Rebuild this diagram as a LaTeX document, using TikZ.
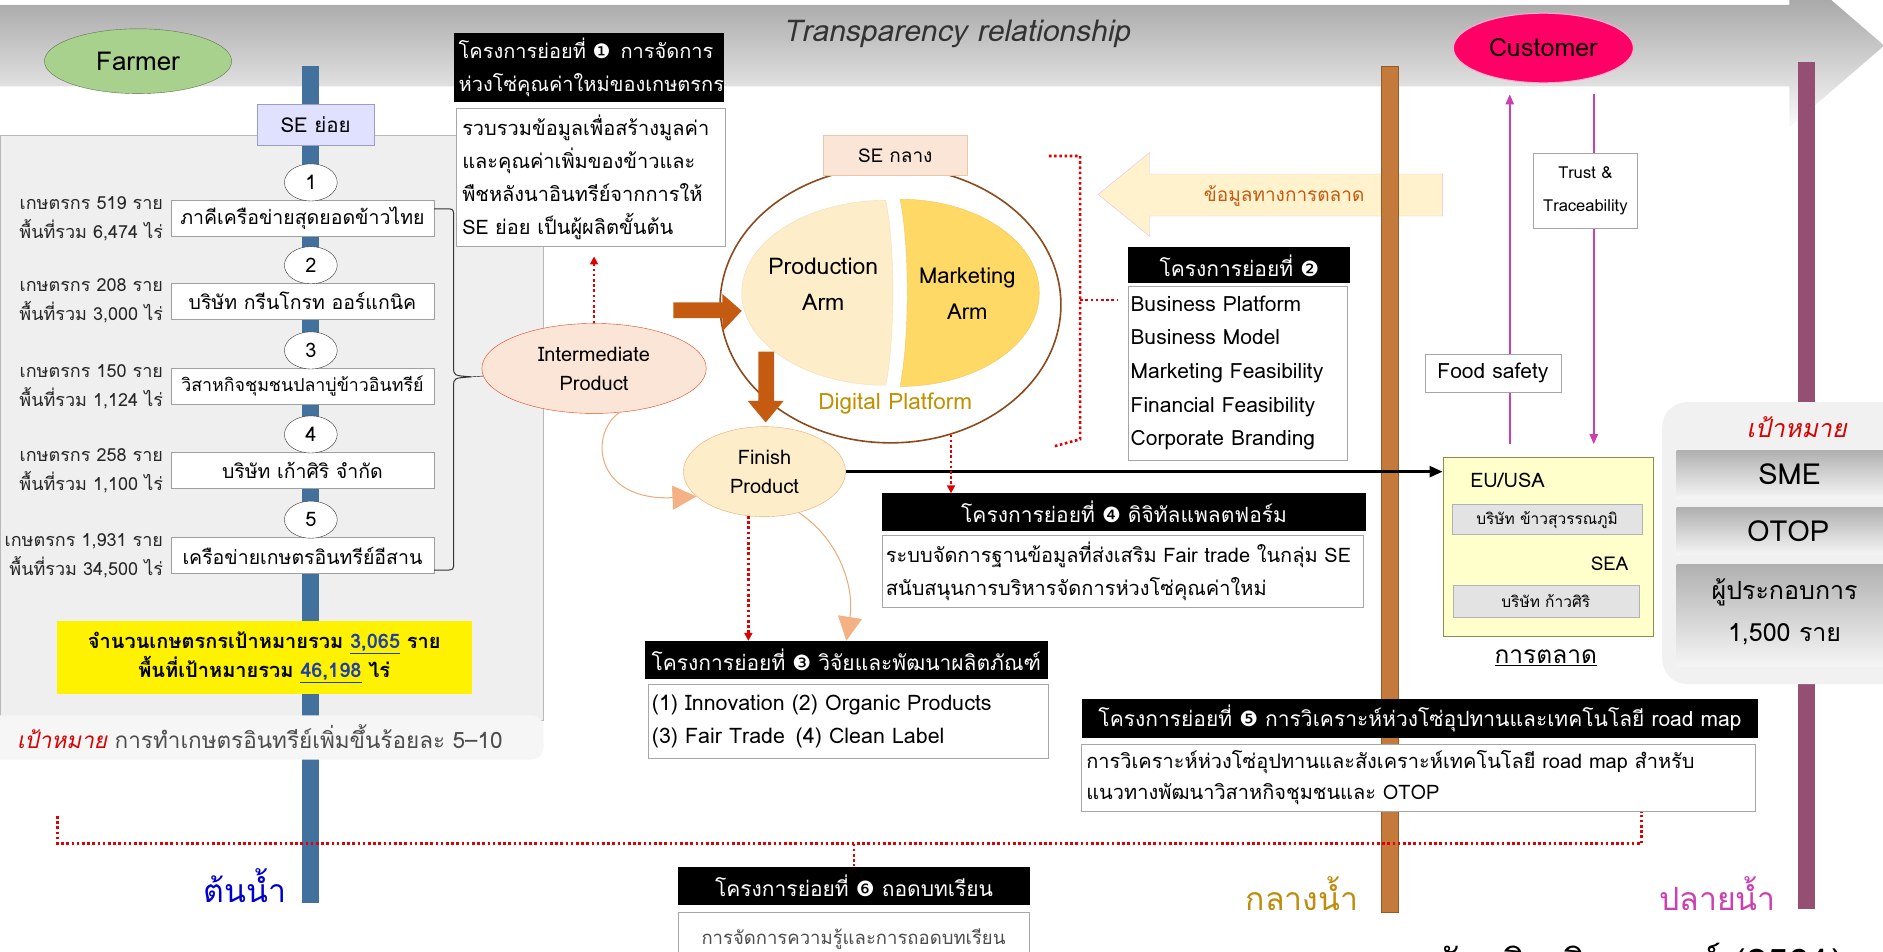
\documentclass[tikz,border=0pt]{standalone}
\usepackage{fontspec}
\setmainfont{Loma}[Script=Thai]
\newfontfamily\dingfont{DejaVu Sans}
\usetikzlibrary{positioning,shapes.geometric,arrows.meta}

\newdimen\pu \pu=1.2pt
\definecolor{panelgray}{HTML}{EFEFEF}
\definecolor{farmergreen}{HTML}{A9D18E}
\definecolor{custpink}{HTML}{FF0066}
\definecolor{riverblue}{HTML}{41719C}
\definecolor{riverbrown}{HTML}{C47A3A}
\definecolor{riverplum}{HTML}{954F72}
\definecolor{armlight}{HTML}{FDEDC8}
\definecolor{armgold}{HTML}{FFD966}
\definecolor{arrowbrown}{HTML}{C55A11}
\definecolor{salmon}{HTML}{F4B183}
\definecolor{peach}{HTML}{FBE5D6}
\definecolor{lightcream}{HTML}{FFF2CC}
\definecolor{magentaline}{HTML}{CC3FB0}
\definecolor{paleyellow}{HTML}{FFFFCC}
\definecolor{dotred}{HTML}{E00000}
\definecolor{platgold}{HTML}{BF9000}
\definecolor{circbrown}{HTML}{8B4A1C}
\definecolor{linkblue}{HTML}{1F3FA8}

\newcommand{\tsize}[2]{\fontsize{#1}{#2}\selectfont}
\newcommand{\dg}[1]{{\dingfont #1}}
\newcommand{\target}[1]{\textcolor{linkblue}{\underline{#1}}}

\tikzset{
  every node/.style={inner sep=0pt},
  wh/.style 2 args={minimum width=#1\pu, minimum height=#2\pu},
  headbox/.style={fill=black, text=white, anchor=north west, font=\tsize{21}{33.6}},
  notebox/.style={draw=gray!70, fill=white, anchor=north west, align=left, font=\tsize{20}{33}},
  firmbox/.style={draw=gray!75, fill=white, wh={219}{30}, font=\tsize{19.5}{22}},
  numcircle/.style={ellipse, draw=black!80, fill=white, wh={44}{31}, font=\tsize{20}{22}},
  farmlabel/.style={anchor=east, align=right, font=\tsize{18}{29}, text=black!85},
  reddot/.style={draw=dotred, line width=2.6pt, dash pattern=on 2.6pt off 2.6pt},
  redtip/.style={-{Triangle[length=8pt,width=8pt,color=dotred]}},
  tagbox/.style={draw=gray!70, fill=white, align=center},
  goalbar/.style={top color=gray!62, bottom color=gray!8},
  custarrow/.style={draw=magentaline, line width=2pt, -{Triangle[length=10pt,width=8pt]}},
  softarrow/.style={draw=salmon!85!brown, line width=1pt, -{Triangle[length=24pt,width=24pt,color=salmon]}}
}

\begin{document}
\begin{tikzpicture}[x=1.2pt,y=-1.2pt]
\clip (0,0) rectangle (1569,792.5);

% transparency band
\shade[top color=gray!85, bottom color=gray!4] (0,4) -- (1491,4) -- (1491,-30) -- (1570,38) -- (1491,106) -- (1491,72) -- (0,72) -- cycle;
\node[font=\itshape\tsize{30}{34}, text=black!80] (transp) at (797,28) {Transparency relationship};

% left panel
\filldraw[fill=panelgray, draw=gray!55] (0,113) rectangle (453,600);

% market information arrow
\filldraw[fill=lightcream, draw=magentaline!35] (915,162) -- (958,127) -- (958,145) -- (1202,145) -- (1202,180) -- (958,180) -- (958,197) -- cycle;
\node[font=\tsize{19}{22}, text=arrowbrown] (mktinfo) at (1070,163) {ข้อมูลทางการตลาด};

% rivers
\fill[riverblue] (252,55) rectangle (266,752);
\filldraw[fill=riverbrown, draw=riverbrown!75!black] (1151,55) rectangle (1165,760);
\fill[riverplum] (1498,52) rectangle (1512,757);

\fill[gray!7, rounded corners=12pt] (-20,596) rectangle (453,633);
\node[anchor=west, font=\tsize{22.5}{26}, text=black!70] (goalleft) at (14,614) {\textcolor{red!85!black}{\itshape เป้าหมาย} การทำเกษตรอินทรีย์เพิ่มขึ้นร้อยละ 5--10};

\node[ellipse, draw=farmergreen!55!black, fill=farmergreen, wh={156}{54}, font=\tsize{26}{28}] (farmer) at (115,51) {Farmer};
\node[ellipse, draw=custpink!30, line width=1pt, fill=custpink, wh={150}{58}, font=\tsize{25}{28}] (customer) at (1286,40) {Customer};

\node[draw=blue!30!gray!60, fill=blue!12, wh={98}{34}, font=\tsize{20.5}{22}] (sesmall) at (263,104) {SE ย่อย};

% member SE
\foreach \k/\ytop/\firm/\farmers/\area in {
  1/167/{ภาคีเครือข่ายสุดยอดข้าวไทย}/519/{6,474},
  2/236/{บริษัท กรีนโกรท ออร์แกนิค}/208/{3,000},
  3/307/{\tsize{17.8}{22}วิสาหกิจชุมชนปลาบู่ข้าวอินทรีย์}/150/{1,124},
  4/377/{บริษัท เก้าศิริ จำกัด}/258/{1,100},
  5/448/{เครือข่ายเกษตรอินทรีย์อีสาน}/{1,931}/{34,500}}
{
  \node[firmbox] (firm\k) at (252,\ytop+15) {\firm};
  \node[numcircle] (num\k) at (259,\ytop-15) {\k};
  \node[farmlabel] (farm\k) at (136,\ytop+15) {เกษตรกร \farmers\ ราย\\พื้นที่รวม \area\ ไร่};
}

% brace to intermediate product
\coordinate (bracetip) at (393,314);
\draw[black!80, line width=1pt] (firm1.east |- 0,174) -- (371,174) .. controls (378,174) .. (378,181) -- (378,306)
  .. controls (378,313) .. (bracetip) .. controls (378,315) .. (378,322) -- (378,468)
  .. controls (378,475) .. (371,475) -- (firm5.east |- 0,475);

\node[fill=yellow, anchor=north west, wh={346}{61}, align=center, font=\bfseries\tsize{20}{29}] (targetbox) at (47,517)
  {จำนวนเกษตรกรเป้าหมายรวม \target{3,065} ราย\\พื้นที่เป้าหมายรวม \target{46,198} ไร่};

% sub-project 1
\node[headbox, wh={225}{58}, text width=217\pu, inner xsep=4\pu, align=left, font=\tsize{20}{33.6}] (head1) at (378,27)
  {\mbox{โครงการย่อยที่ \dg{❶}\enspace การจัดการ}\\\mbox{ห่วงโซ่คุณค่าใหม่ของเกษตรกร}};
\node[notebox, wh={222}{115}, text width=214\pu, inner xsep=5\pu] (note1) at (380,90)
  {รวบรวมข้อมูลเพื่อสร้างมูลค่า\\และคุณค่าเพิ่มของข้าวและ\\พืชหลังนาอินทรีย์จากการให้\\\mbox{SE ย่อย เป็นผู้ผลิตขั้นต้น}};

\node[ellipse, draw=red!45!brown, fill=peach, wh={187}{75}, align=center, font=\tsize{20}{29}] (inter) at (495,307) {Intermediate\\Product};
\draw (bracetip) -- (inter);
\draw[reddot, redtip, shorten >=10pt] (inter.north) -- (inter.north |- note1.south);

% central SE
\node[ellipse, draw=circbrown, line width=1.6pt, fill=white, wh={284}{230}] (secircle) at (742,254) {};
\filldraw[fill=armlight, draw=armlight!85!brown] (738,167) arc[start angle=270, end angle=90, x radius=120, y radius=77]
  .. controls (746,280) and (746,206) .. (738,167);
\filldraw[fill=armgold, draw=armgold!80!brown] (750,166) arc[start angle=-90, end angle=90, x radius=116, y radius=78]
  .. controls (758,280) and (758,206) .. (750,166);
\node[align=center, font=\tsize{23}{36}] (prodarm) at (686,237) {Production\\Arm};
\node[align=center, font=\tsize{22}{36}] (markarm) at (806,245) {Marketing\\Arm};
\node[font=\tsize{22.5}{24}, text=platgold] (digplat) at (746,336) {Digital Platform};
\node[draw=peach!70!brown, fill=peach, wh={120}{33}, font=\tsize{19}{22}] (secentral) at (746,129.5) {SE กลาง};

% block arrows into / out of SE กลาง
\fill[arrowbrown] (561,252) -- (602,252) -- (602,245) -- (618,259) -- (602,276) -- (602,265) -- (561,265) -- cycle;
\fill[arrowbrown] (632,293) -- (645,293) -- (645,334) -- (653,334) -- (638,352) -- (623,334) -- (632,334) -- cycle;

\node[ellipse, draw=salmon!80!brown, fill=armlight, wh={135}{75}, align=center, font=\tsize{20}{29}] (finish) at (637,393) {Finish\\Product};
\draw[softarrow] (inter.-60) .. controls (490,362) and (496,418) .. (finish.200);

% sub-project 2
\node[headbox, wh={185}{30}] (head2) at (940,206) {โครงการย่อยที่ \dg{❷}};
\node[notebox, wh={182}{145}, text width=178\pu, inner xsep=2\pu, font=\tsize{21}{33.6}] (note2) at (940,238)
  {Business Platform\\Business Model\\Marketing Feasibility\\Financial Feasibility\\Corporate Branding};
\coordinate (dotbranch) at (900,250);
\draw[reddot] (874,130) -- (900,130) -- (900,366) -- (878,372);
\draw[reddot, shorten >=10pt] (dotbranch) -- (dotbranch -| note2.west);

% market
\node[draw=gray!55!olive, fill=paleyellow, anchor=north west, wh={175}{149}] (eubox) at (1202,381) {};
\node[anchor=west, font=\tsize{20}{22}] (eu) at (1225,400) {EU/USA};
\node[draw=gray!60, fill=gray!22, wh={158}{25}, font=\tsize{15.5}{18}] (firmeu) at (1289,433) {บริษัท ข้าวสุวรรณภูมิ};
\node[anchor=east, font=\tsize{19}{22}] (sea) at (1357,470) {SEA};
\node[draw=gray!60, fill=gray!22, wh={155}{26}, font=\tsize{15.5}{18}] (firmsea) at (1288,501) {บริษัท ก้าวศิริ};
\node[font=\tsize{24.5}{26}] (market) at (1288,548) {\underline{การตลาด}};

\coordinate (upx) at (1258,0);
\coordinate (downx) at (1328,0);
\draw[custarrow, shorten <=13pt, shorten >=11pt] (eubox.north -| upx) -- (customer.south -| upx);
\draw[custarrow, shorten <=11pt, shorten >=13pt] (customer.south -| downx) -- (eubox.north -| downx);
\node[tagbox, wh={87}{62}, font=\tsize{16.5}{33}] (trust) at (1321,159) {Trust \&\\Traceability};
\node[tagbox, wh={113}{32}, font=\tsize{21}{24}] (food) at (1244,311) {Food safety};

\draw[line width=2.4pt, -{Triangle[length=13pt,width=11pt]}] (finish.east) -- (finish.east -| eubox.west);

% goals
\fill[gray!11, rounded corners=25pt] (1385,335) rectangle (1620,570);
\node[font=\itshape\tsize{25}{28}, text=red!85!black] (goaltitle) at (1497,356) {เป้าหมาย};
\shade[goalbar] (1397,375) rectangle (1580,415);
\shade[goalbar] (1397,423) rectangle (1580,462);
\shade[goalbar] (1397,470) rectangle (1580,555);
\node[font=\tsize{29}{30}] (sme) at (1491,395) {SME};
\node[font=\tsize{29}{30}] (otop) at (1490,443) {OTOP};
\node[align=center, font=\tsize{25}{42}] (operators) at (1487,510) {ผู้ประกอบการ\\1,500 ราย};

% sub-project 4
\node[headbox, wh={403}{31}] (head4) at (735,411) {โครงการย่อยที่ \dg{❹} ดิจิทัลแพลตฟอร์ม};
\node[notebox, wh={401}{60}, text width=395\pu, inner xsep=3\pu, font=\tsize{20}{33.6}] (note4) at (735,446)
  {\mbox{ระบบจัดการฐานข้อมูลที่ส่งเสริม Fair trade ในกลุ่ม SE}\\\mbox{สนับสนุนการบริหารจัดการห่วงโซ่คุณค่าใหม่}};
\draw[reddot, redtip] (secircle.295) -- (secircle.295 |- head4.north);

% sub-project 3
\node[headbox, wh={336}{32}] (head3) at (537,534) {โครงการย่อยที่ \dg{❸} วิจัยและพัฒนาผลิตภัณฑ์};
\node[notebox, wh={333}{62}, text width=327\pu, inner xsep=3\pu, font=\tsize{21.4}{33.6}] (note3) at (540,570)
  {\mbox{(1) Innovation (2) Organic Products}\\\mbox{(3) Fair Trade\enspace(4) Clean Label}};
\draw[reddot, redtip] (finish.250) -- (finish.250 |- head3.north);
\draw[softarrow] (finish.-50) .. controls (700,450) and (712,490) .. (head3.north);

% sub-project 5
\node[headbox, wh={564}{33}] (head5) at (901,582) {โครงการย่อยที่ \dg{❺} การวิเคราะห์ห่วงโซ่อุปทานและเทคโนโลยี road map};
\node[notebox, wh={561}{56}, text width=553\pu, inner xsep=4\pu, font=\tsize{20}{31}] (note5) at (901,620)
  {\mbox{การวิเคราะห์ห่วงโซ่อุปทานและสังเคราะห์เทคโนโลยี road map สำหรับ}\\\mbox{แนวทางพัฒนาวิสาหกิจชุมชนและ OTOP}};

% sub-project 6
\node[headbox, wh={293}{32}] (head6) at (565,722) {โครงการย่อยที่ \dg{❻} ถอดบทเรียน};
\node[notebox, wh={292}{45}, font=\tsize{18.5}{20}, text=black!70, align=center] (note6) at (565,760) {การจัดการความรู้และการถอดบทเรียน};

\coordinate (dotleft) at (48,680);
\coordinate (dotright) at (1368,703);
\draw[reddot] (dotleft) |- (dotright) -- (note5.south -| dotright);
\draw[reddot] (head6.north |- dotright) -- (head6.north);

% river labels
\node[font=\tsize{32}{34}, text=blue!80!black] (upstream) at (204,738) {ต้นน้ำ};
\node[font=\tsize{32}{34}, text=platgold!80!brown] (midstream) at (1085,745) {กลางน้ำ};
\node[font=\tsize{32}{34}, text=magentaline] (downstream) at (1431,745) {ปลายน้ำ};

\node[anchor=base west, font=\tsize{38}{40}] (cite) at (1195,814) {บัณฑิต จินดาวงศ์ (2561)};
\end{tikzpicture}
\end{document}
